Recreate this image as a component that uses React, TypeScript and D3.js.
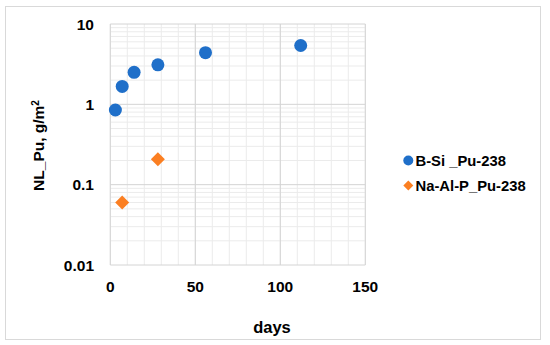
import React from "react";
import * as d3 from "d3";

const seriesNames = ["B-Si _Pu-238", "Na-Al-P_Pu-238"];
const bsiDays = [3, 7, 14, 28, 56, 112];
const bsiValues = [0.85, 1.67, 2.5, 3.1, 4.4, 5.4];
const naDays = [7, 28];
const naValues = [0.06, 0.207];
const xTicks = [0, 50, 100, 150];
const yTicks = [0.01, 0.1, 1, 10];

const W = 550, H = 345;
const left = 110.3, right = 365.3, top = 24, bottom = 265;
const BLUE = "#1f6fc9";
const ORANGE = "#fb7f22";
const FONT = "Arial, 'Liberation Sans', sans-serif";

function diamondPath(h: number) {
  const p = d3.path();
  p.moveTo(0, -h);
  p.lineTo(h, 0);
  p.lineTo(0, h);
  p.lineTo(-h, 0);
  p.closePath();
  return p.toString();
}

export default function App() {
  const x = d3.scaleLinear().domain([0, 150]).range([left, right]);
  const y = d3.scaleLog().domain([0.01, 10]).range([bottom, top]);
  const minorX = d3.range(0, 151, 10);
  const minorY: number[] = [];
  [0.01, 0.1, 1].forEach((d) => {
    for (let k = 2; k <= 9; k++) minorY.push(d * k);
  });
  return (
    <svg width={W} height={H} style={{ position: "absolute", left: 0, top: 0 }}>
      <rect x={0} y={0} width={W} height={H} fill="#fff" />
      <rect x={5.5} y={6.5} width={535} height={333} fill="#fff" stroke="#d9d9d9" strokeWidth={1} />
      {minorX.map((v) => (
        <line key={"mx" + v} x1={x(v)} x2={x(v)} y1={top} y2={bottom} stroke="#ebebeb" strokeWidth={1} />
      ))}
      {minorY.map((v, i) => (
        <line key={"my" + i} x1={left} x2={right} y1={y(v)} y2={y(v)} stroke="#ebebeb" strokeWidth={1} />
      ))}
      {xTicks.map((v) => (
        <line key={"gx" + v} x1={x(v)} x2={x(v)} y1={top} y2={bottom} stroke="#d4d4d4" strokeWidth={1} />
      ))}
      {yTicks.map((v) => (
        <line key={"gy" + v} x1={left} x2={right} y1={y(v)} y2={y(v)} stroke="#d4d4d4" strokeWidth={1} />
      ))}
      {xTicks.map((v) => (
        <text key={"tx" + v} x={x(v)} y={292} textAnchor="middle" fontFamily={FONT} fontWeight="bold" fontSize={15.5} fill="#000">
          {v}
        </text>
      ))}
      {yTicks.map((v) => (
        <text key={"ty" + v} x={94} y={y(v) + 5.5} textAnchor="end" fontFamily={FONT} fontWeight="bold" fontSize={15.5} fill="#000">
          {String(v)}
        </text>
      ))}
      <text x={272} y={333} textAnchor="middle" fontFamily={FONT} fontWeight="bold" fontSize={16.5} fill="#000">days</text>
      <text transform="translate(44,145.5) rotate(-90)" textAnchor="middle" fontFamily={FONT} fontWeight="bold" fontSize={15.5} fill="#000">
        NL_Pu, g/m<tspan baselineShift="super" fontSize={10}>2</tspan>
      </text>
      {bsiDays.map((d, i) => (
        <circle key={"b" + i} cx={x(d)} cy={y(bsiValues[i])} r={6.5} fill={BLUE} />
      ))}
      {naDays.map((d, i) => (
        <path key={"n" + i} d={diamondPath(7)} transform={`translate(${x(d)},${y(naValues[i])})`} fill={ORANGE} />
      ))}
      <circle cx={408.3} cy={160.5} r={5} fill={BLUE} />
      <text x={415.5} y={166} fontFamily={FONT} fontWeight="bold" fontSize={14.8} fill="#000">{seriesNames[0]}</text>
      <path d={diamondPath(5)} transform="translate(408.3,185.5)" fill={ORANGE} />
      <text x={415.5} y={191} fontFamily={FONT} fontWeight="bold" fontSize={14.8} fill="#000">{seriesNames[1]}</text>
    </svg>
  );
}
